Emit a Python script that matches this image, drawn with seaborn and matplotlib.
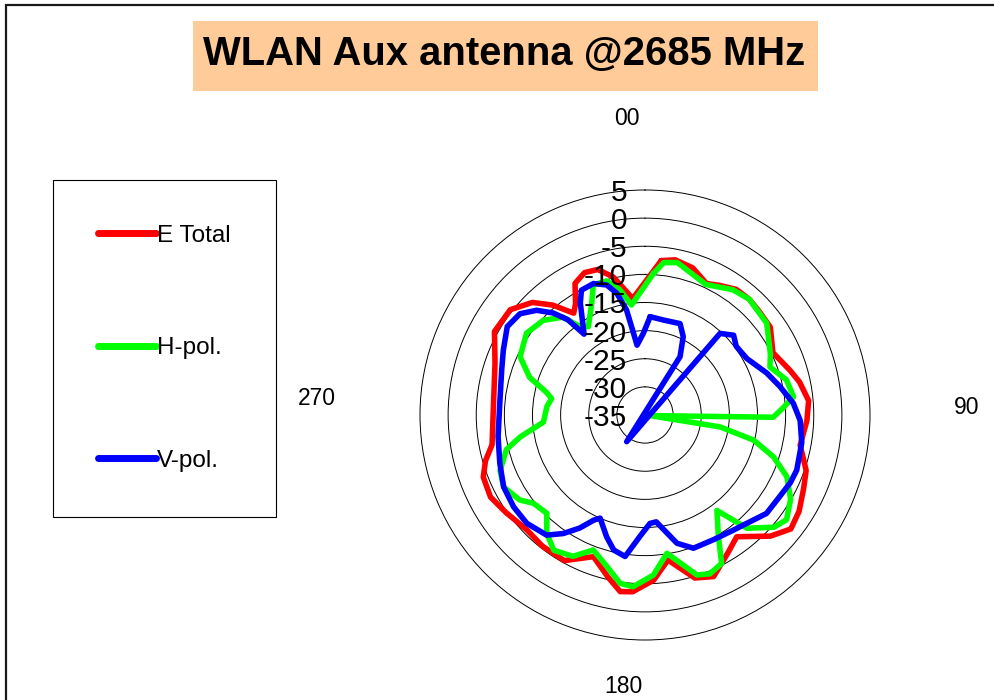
import numpy as np
import matplotlib
matplotlib.use("Agg")
import matplotlib.pyplot as plt
import matplotlib.transforms as mtransforms
from matplotlib.patches import Rectangle
import seaborn as sns

# ---------------- data ----------------
TITLE = "WLAN Aux antenna @2685 MHz"
SERIES = ["E Total", "H-pol.", "V-pol."]
COLORS = ["#FF0000", "#00FF00", "#0000FF"]
R_TICKS = [5, 0, -5, -10, -15, -20, -25, -30, -35]
ANGLE_LABELS = ["00", "90", "180", "270"]

etot_deg = [6, 11, 18, 25, 30, 36, 42, 48, 55, 64, 73, 78, 85, 92, 101, 109, 115,
            122, 128, 134, 143, 149, 157, 163, 171, 177, 184, 188, 193, 200, 209,
            218, 226, 235, 242, 249, 254, 259, 274, 289, 299, 308, 315, 320, 325,
            328, 332, 337, 342, 347, 350, 354]
etot_db = [-7.4, -6.9, -7.5, -9.2, -8.4, -7.4, -7.3, -7.6, -7.8, -9.7, -8.0, -6.9,
           -5.8, -6.2, -6.9, -4.7, -3.9, -2.7, -2.1, -4.0, -7.9, -6.4, -3.8, -4.7,
           -8.9, -5.6, -3.5, -3.3, -5.5, -8.2, -5.4, -5.4, -5.7, -4.8, -3.9, -4.2,
           -5.5, -7.3, -8.0, -6.8, -4.4, -4.6, -6.7, -9.5, -12.9, -11.7, -8.5,
           -7.5, -7.8, -9.8, -11.9, -14.2]

hpol_deg = [3.4, 7, 12, 25, 35, 42, 53, 64, 69, 76, 83, 87, 91, 97, 99, 103, 108,
            113.5, 120, 126.5, 131, 138, 143, 148.6, 152.7, 157.8, 162, 171, 177,
            184, 188.4, 194, 201, 207, 214, 219.7, 225, 231.7, 235.8, 243, 249,
            256, 260, 266, 275, 280, 283, 288, 295, 304.6, 313, 320, 323.7, 327.3,
            334.5, 338.3, 344, 348.7, 353]
hpol_db = [-9.8, -7.7, -7.3, -9.4, -7.8, -7.3, -7.9, -10.2, -11.2, -9.1, -8.4,
           -10.4, -12.2, -34.1, -21.5, -15.2, -11.0, -7.5, -5.1, -3.7, -4.6, -7.9,
           -13.75, -10.0, -5.3, -4.5, -5.1, -10.1, -6.5, -4.4, -4.75, -7.2, -9.3,
           -6.8, -6.0, -7.65, -10.3, -9.7, -8.1, -6.8, -7.4, -9.6, -12.45, -16.9,
           -17.5, -18.15, -17.0, -13.45, -10.5, -9.4, -10.3, -12.3, -15.5, -16.35,
           -13.0, -10.1, -10.2, -12.3, -15.3]

vpol_deg = [3, 11, 21, 26, 31, 34.5, 42.6, 48, 53, 61, 71, 78, 85.5, 92, 100, 110,
            115, 121, 129, 137, 142.5, 151, 160, 166, 174, 177.4, 182.4, 188, 193,
            197.5, 203.5, 206, 210, 214.6, 219.3, 227.5, 235, 243, 251.6, 261.6,
            274.6, 287.4, 294.6, 302.7, 309, 314, 318, 321, 323, 330, 333, 338.6,
            343.6, 347, 350, 352, 353.5, 358.8]
vpol_db = [-17.5, -17.8, -17.6, -19.5, -22.9, -40.75, -15.3, -13.8, -14.7, -14.3,
           -12.1, -10.5, -8.55, -7.4, -6.7, -6.3, -6.5, -7.0, -7.2, -8.6, -9.2,
           -9.7, -9.8, -11.5, -15.9, -15.7, -13.4, -9.6, -10.35, -12.3, -15.0,
           -14.2, -11.8, -9.4, -7.4, -6.5, -6.5, -6.8, -7.8, -8.6, -9.1, -8.3,
           -7.3, -5.9, -6.4, -8.2, -10.6, -13.2, -17.0, -12.0, -10.1, -9.9, -10.9,
           -12.8, -16.0, -20.3, -22.5, -20.5]

SERIES_DEG = [etot_deg, hpol_deg, vpol_deg]
SERIES_DB = [etot_db, hpol_db, vpol_db]

# ---------------- style ----------------
sns.set_style("white")
plt.rcParams["font.family"] = ["Liberation Sans", "DejaVu Sans"]
plt.rcParams["text.color"] = "black"

W, H = 995, 700
fig = plt.figure(figsize=(W / 100, H / 100), dpi=100)
fig.patch.set_facecolor("white")


def fx(px):
    return px / W


def fy(py):
    return 1 - py / H


# outer frame of the chart area (cropped at right/bottom)
fig.patches.append(Rectangle((fx(6), fy(710)), (1100 - 6) / W, (710 - 5) / H,
                             transform=fig.transFigure, fill=False,
                             edgecolor="#1a1a1a", lw=1.6, zorder=0))

# title box
fig.patches.append(Rectangle((fx(193), fy(91)), (818 - 193) / W, (91 - 21) / H,
                             transform=fig.transFigure, facecolor="#FFCC99",
                             edgecolor="none", zorder=1))
fig.text(fx(504), fy(65), TITLE, ha="center", va="baseline",
         fontsize=28.8, fontweight="bold", color="black", zorder=2)

# polar axes
RMIN, RMAX = -35, 5
cx, cy, rad = 645, 415, 225
ax = fig.add_axes([fx(cx - rad), fy(cy + rad), 2 * rad / W, 2 * rad / H],
                  projection="polar")
ax.set_theta_zero_location("N")
ax.set_theta_direction(-1)
ax.set_facecolor("none")


def excel_radar(deg, db):
    """Radar-chart convention: values below the axis minimum are drawn
    through the centre on the opposite side."""
    th = np.deg2rad(np.asarray(deg, float))
    r = np.asarray(db, float)
    low = r < RMIN
    th = np.where(low, th + np.pi, th)
    r = np.where(low, 2 * RMIN - r, r)
    th = np.append(th, th[0] + 2 * np.pi)
    r = np.append(r, r[0])
    return th, r


handles = []
for name, col, deg, db in zip(SERIES, COLORS, SERIES_DEG, SERIES_DB):
    th, r = excel_radar(deg, db)
    sns.lineplot(x=th, y=r, sort=False, estimator=None, color=col, linewidth=4.0,
                 ax=ax, legend=False)
    ln = ax.lines[-1]
    ln.set_label(name)
    ln.set_solid_joinstyle("round")
    handles.append(ln)

ax.set_ylim(RMIN, RMAX)
ax.set_xticks([])
ax.set_yticks([t for t in R_TICKS if RMIN < t < RMAX])
ax.set_yticklabels([])
ax.yaxis.grid(True, color="black", lw=0.7)
ax.xaxis.grid(False)
ax.spines["polar"].set_color("black")
ax.spines["polar"].set_linewidth(0.7)
ax.set_xlabel("")
ax.set_ylabel("")

# radial value labels along the 0-degree direction
lab_tr = mtransforms.offset_copy(ax.transData, fig=fig, x=-18, y=-11, units="dots")
for v in R_TICKS:
    ax.text(0, v, str(v), transform=lab_tr, ha="right", va="baseline",
            fontsize=21.5, color="black", zorder=10, clip_on=False)

# angle labels
ang_pos = [(627, 125), (967, 414), (623, 693), (317, 405)]
for lab, (px, py) in zip(ANGLE_LABELS, ang_pos):
    fig.text(fx(px), fy(py), lab, ha="center", va="baseline", fontsize=16.5,
             color="black")

# legend
leg = fig.legend(handles, SERIES, loc="upper left",
                 bbox_to_anchor=(fx(53), fy(180)), borderaxespad=0,
                 fontsize=17.5, frameon=True, fancybox=False, framealpha=1,
                 edgecolor="black", borderpad=1.85, labelspacing=3.72,
                 handlelength=2.39, handletextpad=0.05, labelcolor="black")
leg.get_frame().set_linewidth(0.8)
for lh in leg.get_lines():
    lh.set_linewidth(5)

fig.savefig("out.png", dpi=100)
